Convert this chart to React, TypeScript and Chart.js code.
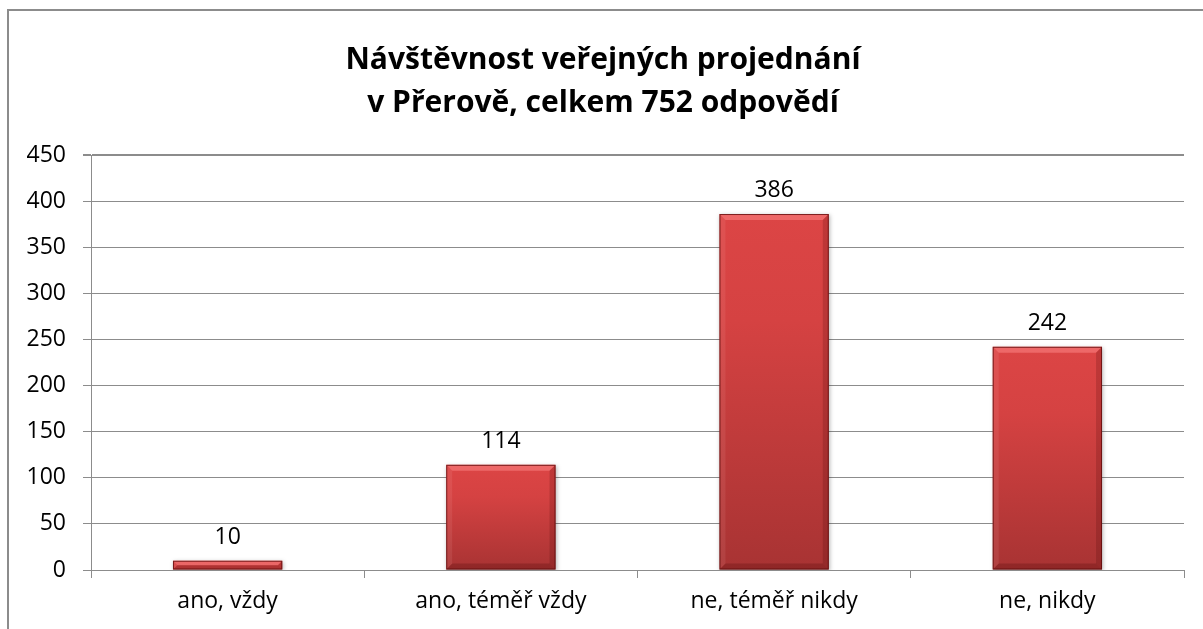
import React, { useEffect, useRef } from "react";
import { Chart, registerables } from "chart.js";

Chart.register(...registerables);

const categories = ["ano, vždy", "ano, téměř vždy", "ne, téměř nikdy", "ne, nikdy"];
const values = [10, 114, 386, 242];
const titleLines = ["Návštěvnost veřejných projednání", "v Přerově, celkem 752 odpovědí"];
const yMin = 0;
const yMax = 450;
const yStep = 50;

const FONT = "'Open Sans', 'Noto Sans', sans-serif";

export default function App() {
  const ref = useRef<HTMLCanvasElement | null>(null);

  useEffect(() => {
    if (!ref.current) return;

    const framePlugin = {
      id: "frame",
      beforeDraw(chart: any) {
        const ctx = chart.ctx;
        ctx.save();
        ctx.fillStyle = "#ffffff";
        ctx.fillRect(0, 0, chart.width, chart.height);
        ctx.strokeStyle = "#8c8c8c";
        ctx.lineWidth = 2;
        ctx.strokeRect(8, 10, chart.width + 50, chart.height + 50);
        ctx.fillStyle = "#000000";
        ctx.font = `bold 30px ${FONT}`;
        ctx.textAlign = "center";
        ctx.textBaseline = "middle";
        ctx.fillText(titleLines[0], 603, 60);
        ctx.fillText(titleLines[1], 603, 103);
        ctx.restore();
      },
      beforeDatasetsDraw(chart: any) {
        const ctx = chart.ctx;
        ctx.save();
        ctx.shadowColor = "rgba(0,0,0,0.28)";
        ctx.shadowBlur = 4;
        ctx.shadowOffsetX = 1;
        ctx.shadowOffsetY = 1;
      },
      afterDatasetsDraw(chart: any) {
        const ctx = chart.ctx;
        ctx.restore();
        const meta = chart.getDatasetMeta(0);
        ctx.save();
        meta.data.forEach((el: any, i: number) => {
          const w = el.width;
          const l = el.x - w / 2;
          const r = el.x + w / 2;
          const t = el.y;
          const b = el.base;
          const h = b - t;
          const bv = Math.min(6, h / 2);
          ctx.fillStyle = "rgba(255,140,140,0.5)";
          ctx.beginPath();
          ctx.moveTo(l, t); ctx.lineTo(r, t); ctx.lineTo(r - bv, t + bv); ctx.lineTo(l + bv, t + bv); ctx.closePath();
          ctx.fill();
          ctx.fillStyle = "rgba(255,200,200,0.10)";
          ctx.beginPath();
          ctx.moveTo(l, t); ctx.lineTo(l + bv, t + bv); ctx.lineTo(l + bv, b - bv); ctx.lineTo(l, b); ctx.closePath();
          ctx.fill();
          ctx.fillStyle = "rgba(60,0,0,0.18)";
          ctx.beginPath();
          ctx.moveTo(r, t); ctx.lineTo(r - bv, t + bv); ctx.lineTo(r - bv, b - bv); ctx.lineTo(r, b); ctx.closePath();
          ctx.fill();
          ctx.fillStyle = "rgba(60,0,0,0.22)";
          ctx.beginPath();
          ctx.moveTo(l, b); ctx.lineTo(l + bv, b - bv); ctx.lineTo(r - bv, b - bv); ctx.lineTo(r, b); ctx.closePath();
          ctx.fill();
          ctx.strokeStyle = "rgba(90,10,10,0.75)";
          ctx.lineWidth = 1;
          ctx.strokeRect(l + 0.5, t + 0.5, w - 1, h - 1);
          ctx.fillStyle = "#000000";
          ctx.font = `23px ${FONT}`;
          ctx.textAlign = "center";
          ctx.textBaseline = "alphabetic";
          ctx.fillText(String(values[i]), el.x, t - 17);
        });
        ctx.restore();
      },
    };

    const chart = new Chart(ref.current, {
      type: "bar",
      data: {
        labels: categories,
        datasets: [
          {
            data: values,
            categoryPercentage: 1,
            barPercentage: 0.4,
            borderWidth: 0,
            backgroundColor: (c: any) => {
              const ch = c.chart;
              if (!ch.chartArea || c.raw === undefined) return "#d44040";
              const ys = ch.scales.y;
              const top = ys.getPixelForValue(c.raw);
              const bot = ys.getPixelForValue(0);
              if (!isFinite(top) || bot - top < 1) return "#d94444";
              const g = ch.ctx.createLinearGradient(0, top, 0, bot);
              const frac = Math.min(1, (bot - top) / 300);
              g.addColorStop(0, "#dc4545");
              g.addColorStop(0.3, "#d54242");
              g.addColorStop(1, frac > 0.3 ? "#a83333" : "#cc3f3f");
              return g;
            },
          },
        ],
      },
      options: {
        animation: false,
        responsive: true,
        maintainAspectRatio: false,
        layout: { padding: { top: 155, right: 19, bottom: 0, left: 0 } },
        plugins: {
          legend: { display: false },
          tooltip: { enabled: false },
          title: { display: false },
        },
        scales: {
          x: {
            offset: true,
            grid: {
              offset: true,
              drawOnChartArea: false,
              drawTicks: true,
              tickLength: 8,
              color: "#8c8c8c",
              lineWidth: 1,
            },
            border: { display: true, color: "#8c8c8c", width: 1 },
            ticks: {
              color: "#000000",
              font: { family: FONT, size: 23 },
              padding: 10,
              maxRotation: 0,
              autoSkip: false,
            },
            afterFit: (s: any) => { s.height = 59; },
          },
          y: {
            min: yMin,
            max: yMax,
            ticks: {
              stepSize: yStep,
              color: "#000000",
              font: { family: FONT, size: 23 },
              padding: 17,
            },
            grid: {
              color: "#8c8c8c",
              lineWidth: (c: any) => (c.tick && c.tick.value === yMax ? 2 : 1),
              tickLength: 8,
            },
            border: { display: true, color: "#8c8c8c", width: 1 },
            afterFit: (s: any) => { s.width = 91; },
          },
        },
      },
      plugins: [framePlugin],
    });

    return () => chart.destroy();
  }, []);

  return (
    <div style={{ position: "absolute", left: 0, top: 0, width: 1203, height: 629 }}>
      <canvas ref={ref} style={{ display: "block" }} />
    </div>
  );
}
